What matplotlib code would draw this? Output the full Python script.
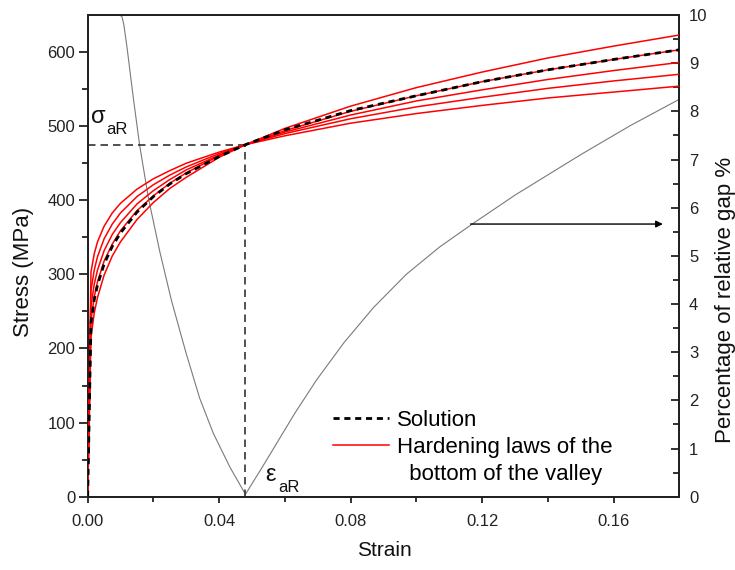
import matplotlib
matplotlib.use("Agg")
import matplotlib.pyplot as plt
from matplotlib.lines import Line2D
import numpy as np

plt.rcParams['font.family'] = ['Liberation Sans', 'DejaVu Sans']

# ---------------- data ----------------
strain = [0.0, 0.001, 0.002, 0.003, 0.005, 0.0075, 0.01, 0.015, 0.02, 0.025,
          0.03, 0.04, 0.048, 0.06, 0.08, 0.10, 0.12, 0.14, 0.16, 0.18]

solution = [0, 234, 266, 286, 314, 338, 356, 384, 405, 422,
            436, 459, 475, 495, 521, 541, 560, 576, 590, 603]

hard_1 = [0, 303, 328, 344, 365, 383, 396, 415, 429, 440,
          450, 465, 475, 487, 504, 517, 528, 538, 546, 554]
hard_2 = [0, 278, 306, 324, 348, 368, 383, 405, 421, 434,
          445, 463, 475, 490, 510, 526, 539, 551, 561, 570]
hard_3 = [0, 257, 287, 306, 332, 354, 370, 395, 413, 428,
          441, 461, 475, 492, 515, 534, 549, 563, 575, 586]
hard_4 = [0, 238, 270, 290, 318, 341, 359, 386, 406, 423,
          437, 460, 475, 494, 520, 541, 560, 576, 590, 603]
hard_5 = [0, 215, 248, 269, 299, 325, 344, 374, 397, 416,
          431, 458, 475, 497, 527, 552, 573, 592, 608, 623]
hardening = [hard_1, hard_2, hard_3, hard_4, hard_5]

gap_strain = [0.0096, 0.0104, 0.0110, 0.0120, 0.0139, 0.0158, 0.0185, 0.0220,
              0.0255, 0.0299, 0.0341, 0.0382, 0.0433, 0.0480,
              0.0530, 0.0569, 0.0630, 0.0696, 0.0780, 0.0870, 0.0970,
              0.1070, 0.1170, 0.1300, 0.1500, 0.1650, 0.1800]
gap_pct = [10.0, 9.97, 9.80, 9.31, 8.27, 7.30, 6.19, 5.07,
           4.07, 2.99, 2.04, 1.32, 0.61, 0.05,
           0.60, 1.04, 1.73, 2.42, 3.20, 3.93, 4.62,
           5.18, 5.66, 6.26, 7.10, 7.70, 8.25]

eps_aR = 0.048
sigma_aR = 475

arrow_gap = 5.66
arrow_from = 0.1165
arrow_to = 0.1750

x_ticks = [0.00, 0.04, 0.08, 0.12, 0.16]
x_ticklabels = ['0.00', '0.04', '0.08', '0.12', '0.16']
y_ticks = [0, 100, 200, 300, 400, 500, 600]
y2_ticks = list(range(0, 11))

legend_labels = ['Solution', 'Hardening laws of the', '  bottom of the valley']

# ---------------- figure ----------------
fig = plt.figure(figsize=(7.35, 5.70), dpi=100)
ax = fig.add_axes([0.1193, 0.1286, 0.8049, 0.8451])
ax2 = ax.twinx()

# right axis: relative gap
ax2.plot(gap_strain, gap_pct, color='#7a7a7a', lw=0.8, zorder=1)
ax2.annotate('', xy=(arrow_to, arrow_gap), xytext=(arrow_from, arrow_gap),
             arrowprops=dict(arrowstyle='-|>', color='black', lw=1.0,
                             mutation_scale=10, shrinkA=0, shrinkB=0))
ax2.set_ylim(0, 10)
ax2.set_yticks(y2_ticks)
ax2.set_yticks(np.arange(0.5, 10, 1.0), minor=True)

# left axis: stress
ax.set_zorder(ax2.get_zorder() + 1)
ax.patch.set_visible(False)

ax.plot([0, eps_aR], [sigma_aR, sigma_aR], color='#333333', lw=1.2,
        dashes=(4.5, 3), zorder=2)
ax.plot([eps_aR, eps_aR], [0, sigma_aR], color='#333333', lw=1.2,
        dashes=(4.5, 3), zorder=2)

red_lines = []
for h in hardening:
    ln, = ax.plot(strain, h, color='#ff0000', lw=1.1, zorder=3)
    red_lines.append(ln)
sol_line, = ax.plot(strain, solution, color='black', lw=2.0, dashes=(2.2, 1.7),
                    zorder=4)

ax.set_xlim(0, 0.18)
ax.set_ylim(0, 650)
ax.set_xticks(x_ticks)
ax.set_xticklabels(x_ticklabels)
ax.set_xticks(np.arange(0.02, 0.18, 0.04), minor=True)
ax.set_yticks(y_ticks)
ax.set_yticks(np.arange(50, 650, 100), minor=True)

for a in (ax, ax2):
    for s in a.spines.values():
        s.set_linewidth(1.4)
        s.set_color('#222222')

ax.tick_params(axis='both', which='both', direction='out', labelsize=12,
               colors='#222222', width=1.3)
ax.tick_params(axis='y', which='major', length=6.5, pad=2.5)
ax.tick_params(axis='y', which='minor', length=4.5)
ax.tick_params(axis='x', which='major', length=4.5, pad=8)
ax.tick_params(axis='x', which='minor', length=3.5)
ax.tick_params(top=False, right=False, which='both')
ax2.tick_params(axis='y', which='both', direction='in', labelsize=12,
                colors='#222222', width=1.3, pad=7)
ax2.tick_params(axis='y', which='major', length=5.5)
ax2.tick_params(axis='y', which='minor', length=4)

# labels
fig.text(24 / 735, 1 - 272 / 570, 'Stress (MPa)', rotation=90, fontsize=16,
         ha='center', va='center', color='#111111')
fig.text(384 / 735, 1 - 551 / 570, 'Strain', fontsize=15,
         ha='center', va='center', color='#111111')
fig.text(726 / 735, 1 - 300 / 570, 'Percentage of relative gap %', rotation=90,
         fontsize=16, ha='center', va='center', color='#111111')

# annotations
ax.text(0.0009, 504, 'σ', fontsize=17, ha='left', va='baseline', color='#111111')
ax.text(0.0056, 489, 'aR', fontsize=12, ha='left', va='baseline', color='#111111')
ax.text(0.0541, 21, 'ε', fontsize=17, ha='left', va='baseline', color='#111111')
ax.text(0.0581, 7, 'aR', fontsize=12, ha='left', va='baseline', color='#111111')

# legend
blank = Line2D([], [], lw=0, color='none')
leg = ax.legend([sol_line, red_lines[0], blank], legend_labels,
                loc='upper left', bbox_to_anchor=(0.396, 0.2035), frameon=False,
                fontsize=16, handlelength=2.5, handletextpad=0.36,
                borderpad=0, labelspacing=0.28)

fig.savefig('out.png', dpi=100)
